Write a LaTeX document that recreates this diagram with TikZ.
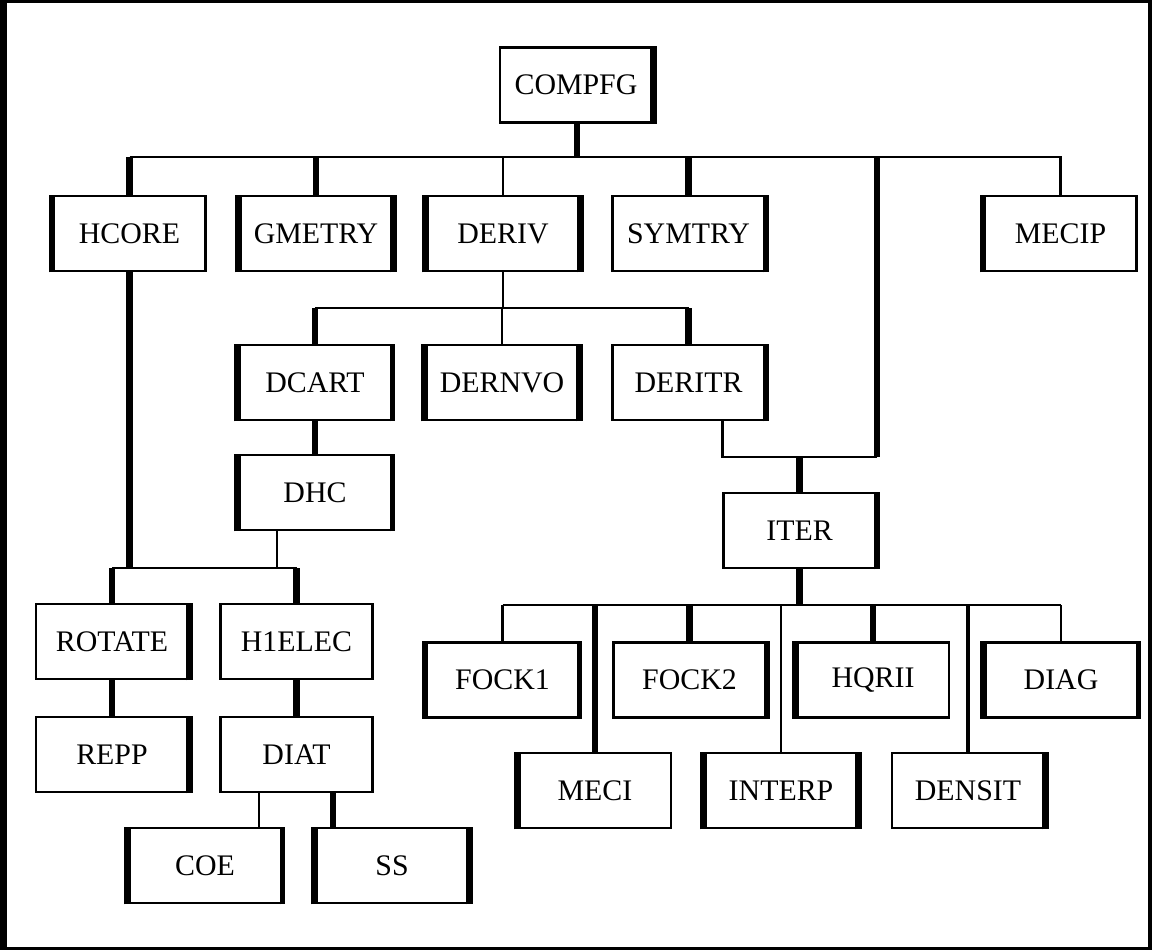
\documentclass[tikz,border=0pt]{standalone}
\usepackage{fontspec}
\setmainfont{Liberation Serif}
\tikzset{
	box/.style={draw, line width=1.6pt, minimum width=3.04cm, minimum height=1.5cm, inner sep=0pt, font=\fontsize{17}{20}\selectfont},
	thinline/.style={line width=1.6pt},
	midline/.style={line width=2.6pt},
	heavy/.style={line width=3.8pt}
}
\begin{document}
\begin{tikzpicture}[x=0.02cm, y=-0.02cm]
			\useasboundingbox (0,0) rectangle (1156,950);
			
				% frame
				\draw[thinline] (2,1.5) -- (1150,1.5);
				\draw[thinline] (2,948.5) -- (1150,948.5);
				\draw[line width=4pt] (3.5,0) -- (3.5,950);
				\draw[line width=2.6pt] (1150,0) -- (1150,950);
			
				% boxes
				\node[box] (compfg) at (576,85) {COMPFG};
				\node[box] (hcore) at (129.5,233.5) {HCORE};
				\node[box] (gmetry) at (316,233.5) {GMETRY};
				\node[box] (deriv) at (503,233.5) {DERIV};
				\node[box] (symtry) at (688.5,233.5) {SYMTRY};
				\node[box] (mecip) at (1060.5,233.5) {MECIP};
				\node[box] (dcart) at (315,382.5) {DCART};
				\node[box] (dernvo) at (502,382.5) {DERNVO};
				\node[box] (deritr) at (688.5,382.5) {DERITR};
				\node[box] (dhc) at (315,492.5) {DHC};
				\node[box] (iter) at (799.5,530.5) {ITER};
				\node[box] (rotate) at (112,641.5) {ROTATE};
				\node[box] (h1elec) at (296.5,641.5) {H1ELEC};
				\node[box] (repp) at (112,754.5) {REPP};
				\node[box] (diat) at (296.5,754.5) {DIAT};
				\node[box] (coe) at (205,865.5) {COE};
				\node[box] (ss) at (392,865.5) {SS};
				\node[box] (fock1) at (502.5,680) {FOCK1};
				\node[box] (fock2) at (689.5,680) {FOCK2};
				\node[box] (hqrii) at (873,680) {HQRII};
				\node[box] (diag) at (1061,680) {DIAG};
				\node[box] (meci) at (595,790.5) {MECI};
				\node[box] (interp) at (781,790.5) {INTERP};
				\node[box] (densit) at (968,790.5) {DENSIT};
			
				% heavy sides
				\foreach \n in {hcore, gmetry, deriv, mecip, dcart, dernvo, dhc, coe, ss, fock1, hqrii, diag, meci, interp}
					\draw[heavy] (\n.south west) -- (\n.north west);
				\foreach \n in {compfg, gmetry, deriv, symtry, dernvo, deritr, iter, rotate, repp, ss, fock2, interp, densit}
					\draw[heavy] (\n.south east) -- (\n.north east);
				\foreach \n in {dcart, dhc, coe, fock1, diag}
					\draw[midline] (\n.south east) -- (\n.north east);
			
				% first level
				\coordinate (bus1) at (577,157);
				\draw[heavy] (compfg.south -| bus1) -- (bus1);
				\draw[thinline] (hcore.north |- bus1) -- (1062,157);
				\draw[heavy] (hcore.north) -- (hcore.north |- bus1);
				\draw[heavy] (gmetry.north) -- (gmetry.north |- bus1);
				\draw[thinline] (deriv.north) -- (deriv.north |- bus1);
				\draw[heavy] (symtry.north) -- (symtry.north |- bus1);
				\draw[thinline] (mecip.north) -- (mecip.north |- bus1);
			
				% under DERIV
				\coordinate (bus2) at (503,308);
				\draw[thinline] (deriv.south) -- (bus2);
				\draw[thinline] (dcart.north |- bus2) -- (deritr.north |- bus2);
				\draw[heavy] (dcart.north) -- (dcart.north |- bus2);
				\draw[thinline] (dernvo.north) -- (dernvo.north |- bus2);
				\draw[heavy] (deritr.north) -- (deritr.north |- bus2);
				\draw[heavy] (dcart.south) -- (dhc.north);
			
				% to ITER
				\coordinate (join) at (799.5,457);
				\draw[thinline] (deritr.south -| iter.west) -- (iter.west |- join) -- (iter.east |- join);
				\draw[heavy] (iter.east |- join) -- (iter.east |- bus1);
				\draw[heavy] (join) -- (iter.north);
			
				% under HCORE and DHC
				\coordinate (bus3) at (277,568);
				\draw[thinline] (dhc.south -| bus3) -- (bus3);
				\draw[heavy] (hcore.south) -- (hcore.south |- bus3);
				\draw[thinline] (rotate.north |- bus3) -- (h1elec.north |- bus3);
				\draw[heavy] (rotate.north) -- (rotate.north |- bus3);
				\draw[heavy] (h1elec.north) -- (h1elec.north |- bus3);
				\draw[heavy] (rotate.south) -- (repp.north);
				\draw[heavy] (h1elec.south) -- (diat.north);
			
				% under DIAT
				\coordinate (coetop) at (259,828);
				\coordinate (sstop) at (333,828);
				\draw[thinline] (diat.south -| coetop) -- (coetop);
				\draw[heavy] (diat.south -| sstop) -- (sstop);
			
				% under ITER
				\coordinate (bus4) at (799.5,605);
				\draw[heavy] (iter.south) -- (bus4);
				\draw[thinline] (fock1.north |- bus4) -- (diag.north |- bus4);
				\draw[thinline] (fock1.north) -- (fock1.north |- bus4);
				\draw[heavy] (fock2.north) -- (fock2.north |- bus4);
				\draw[heavy] (hqrii.north) -- (hqrii.north |- bus4);
				\draw[thinline] (diag.north) -- (diag.north |- bus4);
				\draw[heavy] (meci.north) -- (meci.north |- bus4);
				\draw[thinline] (interp.north) -- (interp.north |- bus4);
				\draw[midline] (densit.north) -- (densit.north |- bus4);
			
			\end{tikzpicture}
\end{document}
